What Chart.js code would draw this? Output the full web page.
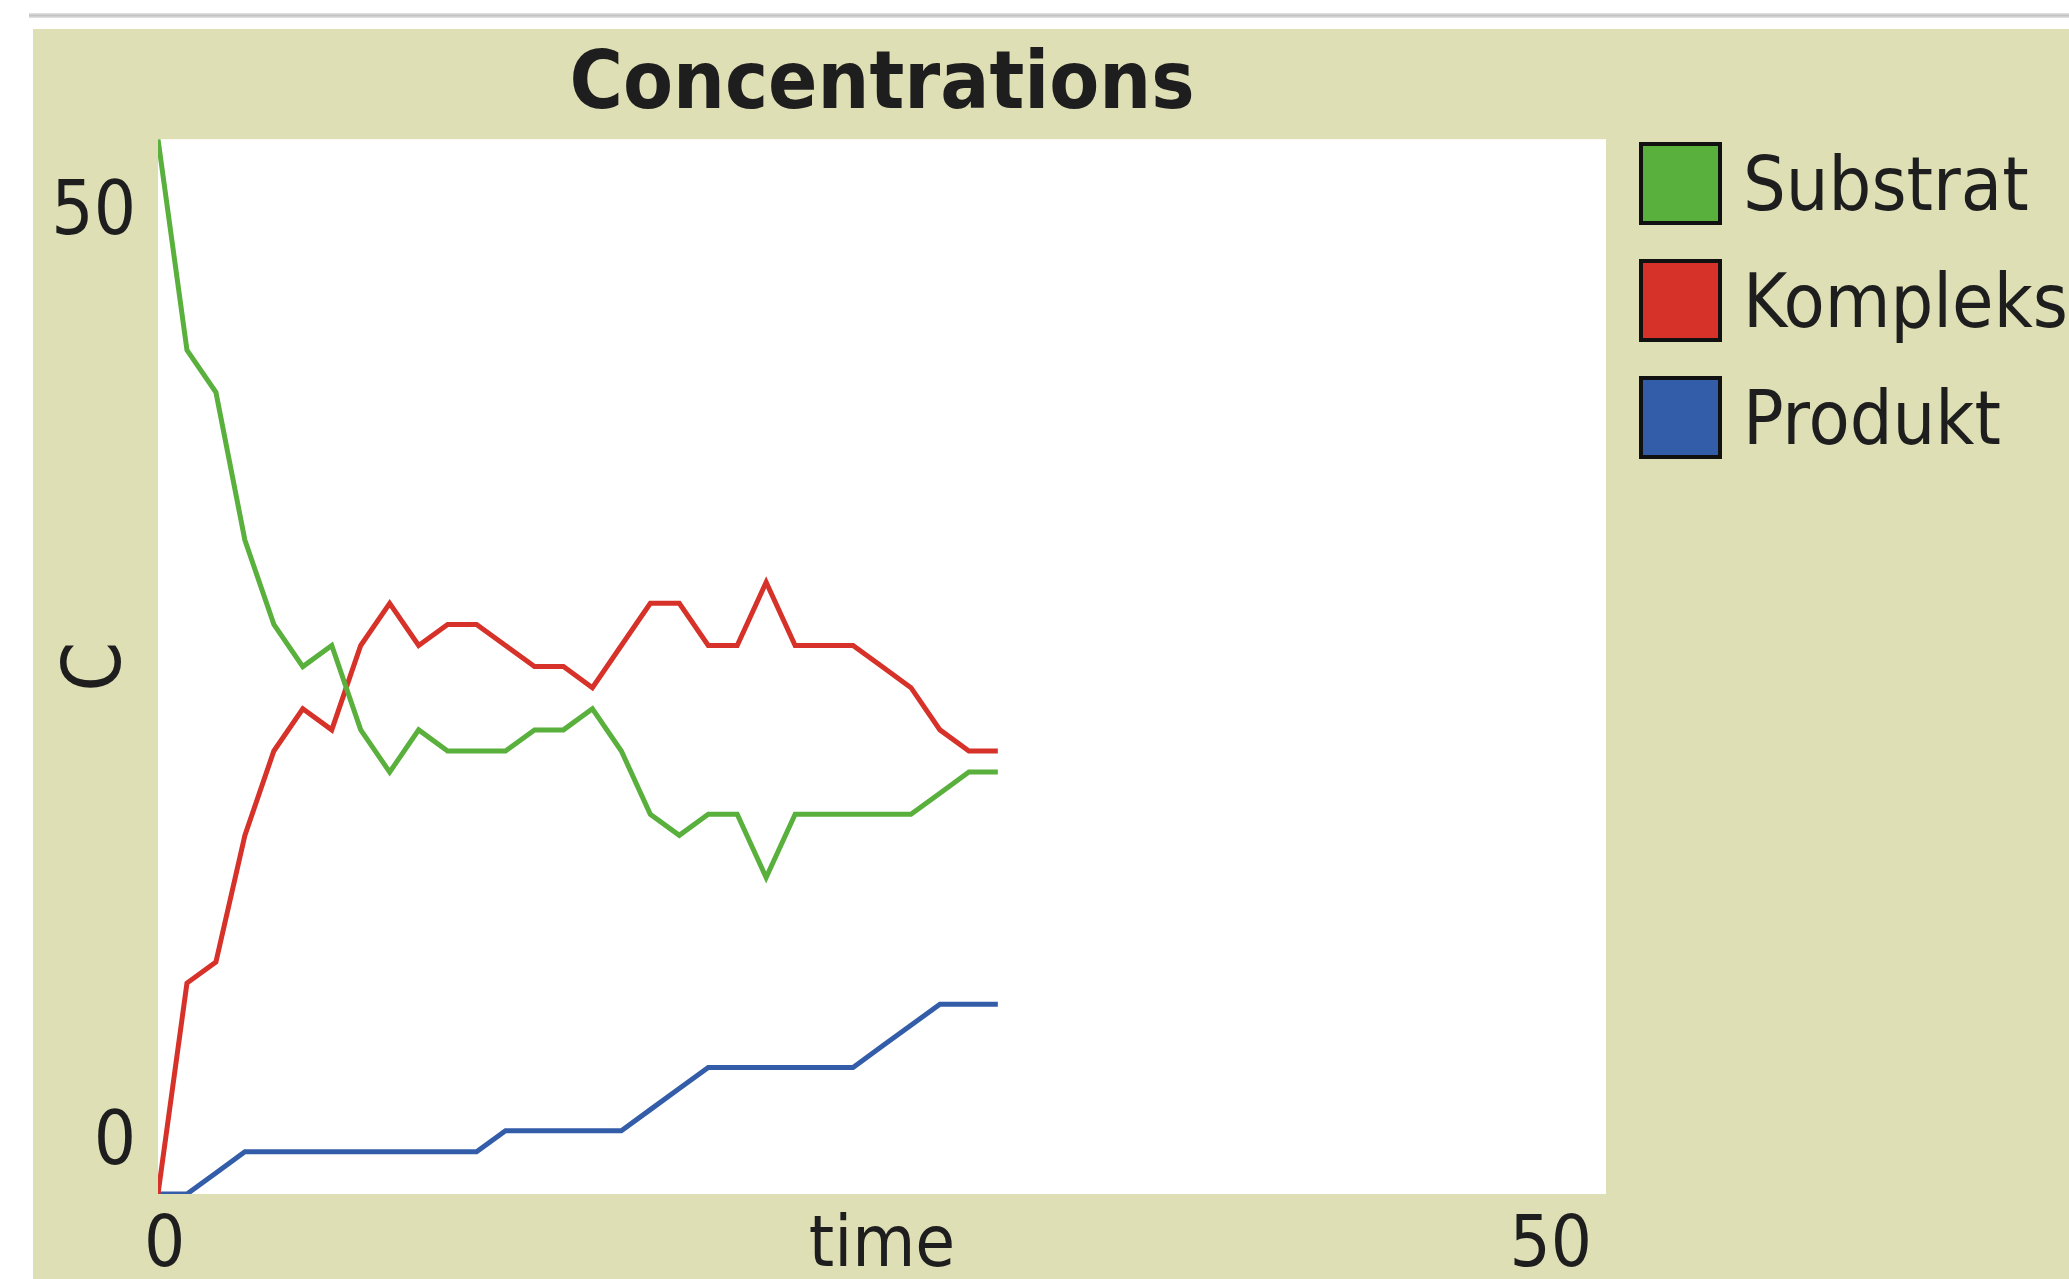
<!DOCTYPE html>
<html>
<head>
<meta charset="utf-8">
<script src="https://cdn.jsdelivr.net/npm/chart.js@4.4.1/dist/chart.umd.min.js"></script>
<style>
  html, body { margin: 0; padding: 0; background: #fff; width: 2069px; height: 1279px; overflow: hidden; }
  #topline { position: absolute; left: 29px; top: 13px; width: 2040px; height: 5px;
    background: linear-gradient(#e4e4e4, #c4c4c4, #e4e4e4); }
  #panel { position: absolute; left: 33px; top: 29px; right: 0; bottom: 0; background: #dfdfb6; }
  #chart { position: absolute; left: 0; top: 0; }
  #legend { position: absolute; left: 1639px; top: 142px; font-family: "DejaVu Sans Condensed", "DejaVu Sans", sans-serif;
    font-size: 75px; color: #1e1e1e; }
  .item { display: flex; align-items: center; height: 83px; margin-bottom: 34px; white-space: nowrap; }
  .box { width: 75px; height: 75px; border: 4px solid #111; margin-right: 21px; }
</style>
</head>
<body>
<div id="topline"></div>
<div id="panel"></div>
<canvas id="chart" width="2069" height="1279"></canvas>
<div id="legend"></div>
<script>
// Ticks (time) and the three series
const times = [0, 1, 2, 3, 4, 5, 6, 7, 8, 9, 10, 11, 12, 13, 14, 15, 16, 17, 18, 19, 20, 21, 22, 23, 24, 25, 26, 27, 28, 29];
const substrat = [50, 40, 38, 31, 27, 25, 26, 22, 20, 22, 21, 21, 21, 22, 22, 23, 21, 18, 17, 18, 18, 15, 18, 18, 18, 18, 18, 19, 20, 20];
const kompleks = [0, 10, 11, 17, 21, 23, 22, 26, 28, 26, 27, 27, 26, 25, 25, 24, 26, 28, 28, 26, 26, 29, 26, 26, 26, 25, 24, 22, 21, 21];
const produkt = [0, 0, 1, 2, 2, 2, 2, 2, 2, 2, 2, 2, 3, 3, 3, 3, 3, 4, 5, 6, 6, 6, 6, 6, 6, 7, 8, 9, 9, 9];

const seriesNames = ['Substrat', 'Kompleks', 'Produkt'];
const seriesColors = ['#59b03c', '#d73229', '#345da9'];
const xTicks = [0, 50];
const yTicks = [0, 50];

const FONT = '"DejaVu Sans Condensed", "DejaVu Sans", sans-serif';
const TEXT = '#1e1e1e';

// white plotting area like NetLogo
const plotBg = {
  id: 'plotBg',
  beforeDraw(chart) {
    const { ctx, chartArea: a } = chart;
    ctx.save();
    ctx.fillStyle = '#ffffff';
    ctx.fillRect(a.left, a.top, a.right - a.left, a.bottom - a.top);
    ctx.restore();
  }
};

const toPoints = (arr) => arr.map((v, i) => ({ x: times[i], y: v }));
const allSeries = [substrat, kompleks, produkt];

const ctx = document.getElementById('chart');
const myChart = new Chart(ctx, {
  type: 'line',
  data: {
    datasets: allSeries.map((s, i) => ({
      label: seriesNames[i],
      data: toPoints(s),
      borderColor: seriesColors[i],
      backgroundColor: seriesColors[i],
      borderWidth: 5,
      pointRadius: 0,
      tension: 0,
      fill: false,
    })),
  },
  options: {
    responsive: false,
    animation: false,
    devicePixelRatio: 1,
    layout: { padding: { left: 0, top: 0, right: 463, bottom: 0 } },
    scales: {
      x: {
        type: 'linear',
        min: xTicks[0],
        max: xTicks[1],
        afterBuildTicks: (scale) => { scale.ticks = xTicks.map(v => ({ value: v })); },
        afterFit: (scale) => { scale.height = 85; scale.paddingLeft = 0; scale.paddingRight = 0; },
        grid: { display: false, drawTicks: false },
        border: { display: false },
        ticks: {
          align: 'inner',
          maxRotation: 0,
          padding: 10,
          labelOffset: -14,
          color: TEXT,
          font: { family: FONT, size: 72, lineHeight: 1.2 },
        },
        title: {
          display: true,
          text: 'time',
          color: TEXT,
          font: { family: FONT, size: 72, lineHeight: '64px' },
          padding: { top: 0, bottom: 0 },
        },
      },
      y: {
        min: yTicks[0],
        max: yTicks[1],
        afterBuildTicks: (scale) => { scale.ticks = yTicks.map(v => ({ value: v })); },
        afterFit: (scale) => { scale.width = 158; scale.paddingTop = 0; scale.paddingBottom = 0; },
        grid: { display: false, drawTicks: false },
        border: { display: false },
        ticks: {
          padding: 22,
          color: TEXT,
          // max label hangs below the top edge, min label sits above the bottom edge
          callback: (value) => value === yTicks[1] ? ['', String(value)] : [String(value), ''],
          font: (c) => ({
            family: FONT,
            size: 74,
            lineHeight: c.tick && c.tick.value === yTicks[1] ? '152px' : '98px',
          }),
        },
        title: {
          display: true,
          text: 'C',
          color: TEXT,
          font: { family: FONT, size: 80, lineHeight: 1.2 },
          padding: { top: 51, bottom: 0 },
        },
      },
    },
    plugins: {
      legend: { display: false },
      tooltip: { enabled: false },
      title: {
        display: true,
        text: 'Concentrations',
        fullSize: false,
        color: TEXT,
        font: { family: FONT, size: 81, weight: 'bold', lineHeight: 1.2 },
        padding: { top: 38, bottom: 4 },
      },
    },
  },
  plugins: [plotBg],
});

// legend in the NetLogo style (boxes with black frame)
const legend = document.getElementById('legend');
seriesNames.forEach((name, i) => {
  const row = document.createElement('div');
  row.className = 'item';
  const box = document.createElement('div');
  box.className = 'box';
  box.style.background = seriesColors[i];
  const label = document.createElement('span');
  label.textContent = name;
  row.appendChild(box);
  row.appendChild(label);
  legend.appendChild(row);
});
</script>
</body>
</html>
